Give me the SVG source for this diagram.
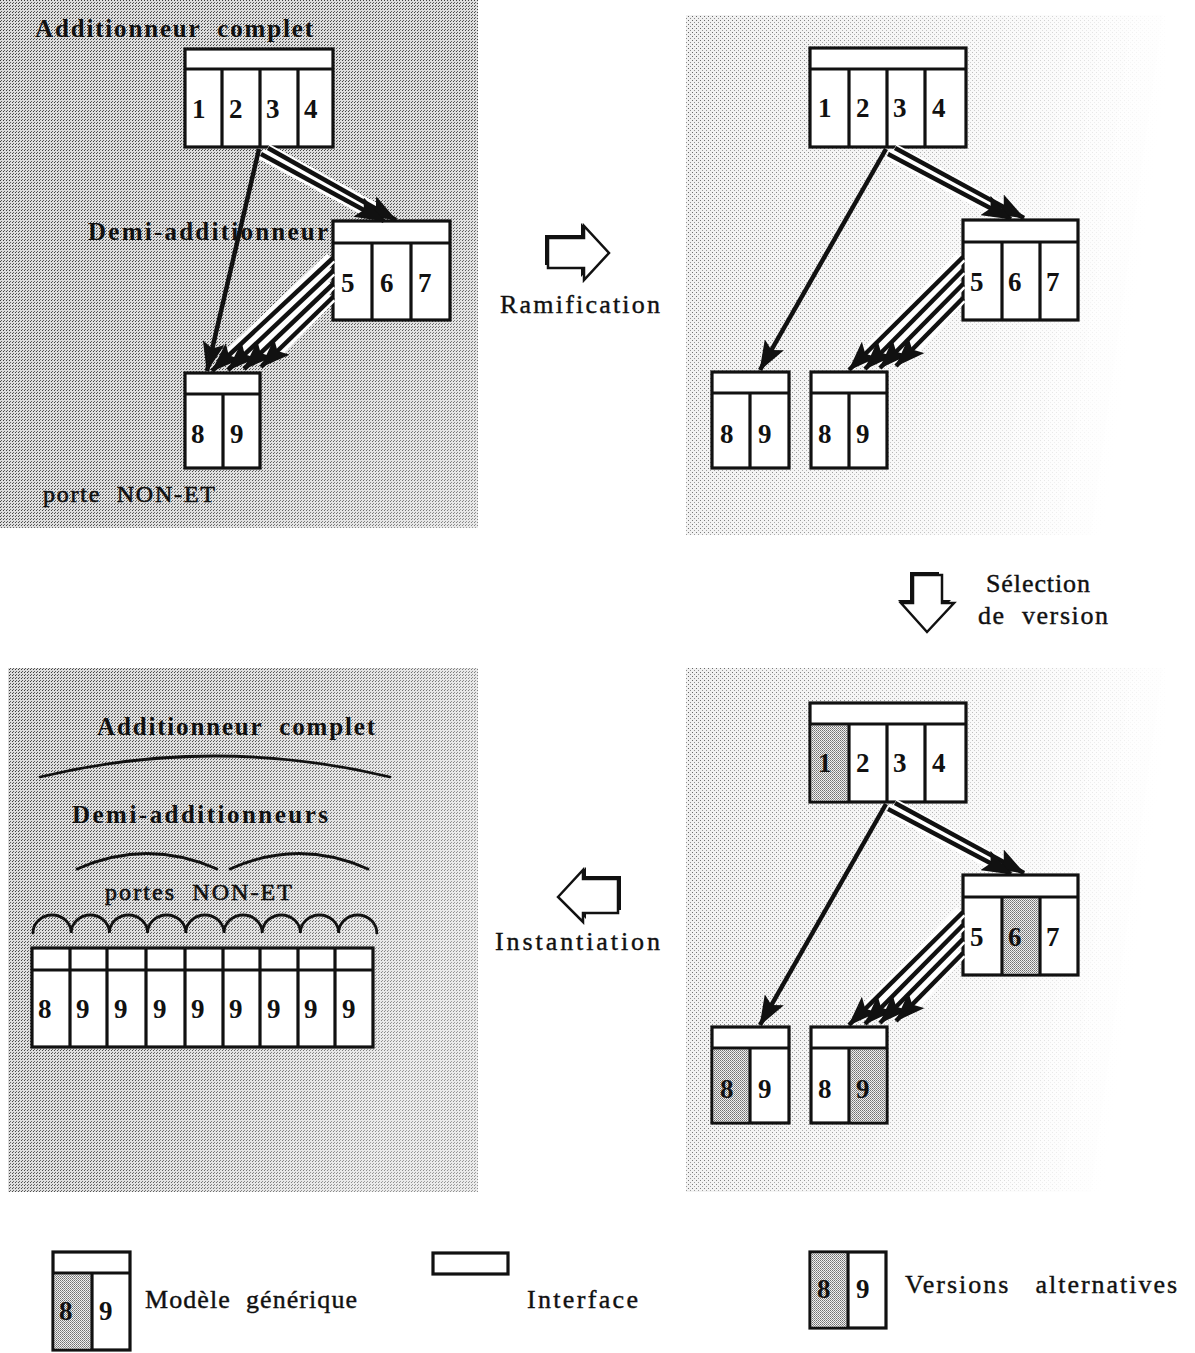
<svg xmlns="http://www.w3.org/2000/svg" width="1195" height="1353" viewBox="0 0 1195 1353">
<style>
.nb{fill:#fff;stroke:#111;stroke-width:3.2}
.dv{stroke:#111;stroke-width:3.2;fill:none}
.dg{font-family:"Liberation Serif",serif;font-weight:bold;font-size:27px;fill:#111}
.lb{font-family:"Liberation Serif",serif;font-weight:bold;font-size:25px;fill:#111}
.lr{font-family:"Liberation Serif",serif;font-size:24px;fill:#111;stroke:#111;stroke-width:0.6}
.lc{font-family:"Liberation Serif",serif;font-size:26px;fill:#111;stroke:#111;stroke-width:0.4}
.cs{stroke:#fff;fill:none;stroke-linecap:butt}
.ar{stroke:#111;fill:none;stroke-width:4.5;marker-end:url(#ah)}
.br{stroke:#111;fill:none;stroke-width:2.8;stroke-linecap:round}
.ba{fill:#fff;stroke:#111;stroke-width:2.5;stroke-linejoin:miter}
.sh{fill:#111}
.shade{fill:url(#shd)}
</style>
<defs>
<pattern id="stip" width="3" height="3" patternUnits="userSpaceOnUse"><rect width="3" height="3" fill="#dcdcdc"/><rect width="1" height="1" fill="#3a3a3a"/><rect x="1" y="2" width="1" height="1" fill="#5a5a5a"/></pattern>
<pattern id="stip2" width="4" height="4" patternUnits="userSpaceOnUse"><rect width="4" height="4" fill="#efefef"/><rect width="1" height="1" fill="#555"/><rect x="2" y="2" width="1" height="1" fill="#808080"/></pattern>
<pattern id="shd" width="2" height="2" patternUnits="userSpaceOnUse"><rect width="2" height="2" fill="#f0f0f0"/><rect width="1" height="1" fill="#707070"/><rect x="1" y="1" width="1" height="1" fill="#909090"/></pattern>
<linearGradient id="gTL" x1="0" y1="0" x2="1" y2="1"><stop offset="0" stop-color="#fff"/><stop offset="0.6" stop-color="#f0f0f0"/><stop offset="1" stop-color="#a0a0a0"/></linearGradient>
<linearGradient id="gBL" x1="0" y1="0" x2="1" y2="0.4"><stop offset="0" stop-color="#fff"/><stop offset="0.5" stop-color="#e0e0e0"/><stop offset="1" stop-color="#909090"/></linearGradient>
<linearGradient id="gR" x1="0" y1="0" x2="1" y2="0.15"><stop offset="0" stop-color="#e8e8e8"/><stop offset="0.35" stop-color="#a0a0a0"/><stop offset="0.75" stop-color="#404040"/><stop offset="1" stop-color="#000"/></linearGradient>
<mask id="mTL" maskUnits="userSpaceOnUse" x="0" y="0" width="1195" height="1353"><rect x="0" y="0" width="478" height="528" fill="url(#gTL)"/></mask>
<mask id="mBL" maskUnits="userSpaceOnUse" x="0" y="0" width="1195" height="1353"><rect x="8" y="668" width="470" height="524" fill="url(#gBL)"/></mask>
<mask id="mTR" maskUnits="userSpaceOnUse" x="0" y="0" width="1195" height="1353"><rect x="686" y="15" width="480" height="520" fill="url(#gR)"/></mask>
<mask id="mBR" maskUnits="userSpaceOnUse" x="0" y="0" width="1195" height="1353"><rect x="686" y="668" width="480" height="524" fill="url(#gR)"/></mask>
<marker id="ah" markerUnits="userSpaceOnUse" markerWidth="30" markerHeight="22" viewBox="0 0 30 22" refX="29" refY="11" orient="auto"><path d="M0,0 L30,11 L0,22 L6,11 z" fill="#111"/></marker>
</defs>
<rect width="1195" height="1353" fill="#fff"/>
<g id="panels">
<rect x="0" y="0" width="478" height="528" fill="url(#stip)" mask="url(#mTL)"/>
<rect x="8" y="668" width="470" height="524" fill="url(#stip)" mask="url(#mBL)"/>
<rect x="686" y="15" width="480" height="520" fill="url(#stip2)" mask="url(#mTR)"/>
<rect x="686" y="668" width="480" height="524" fill="url(#stip2)" mask="url(#mBR)"/>
</g>
<g id="labels">
<text class="lb" x="35" y="37" textLength="278" lengthAdjust="spacing" xml:space="preserve">Additionneur  complet</text>
<text class="lb" x="88" y="240" textLength="240" lengthAdjust="spacing">Demi-additionneur</text>
<text class="lr" x="43" y="502" textLength="172" lengthAdjust="spacing" xml:space="preserve">porte  NON-ET</text>
<text class="lc" x="500" y="313" textLength="160" lengthAdjust="spacing">Ramification</text>
<text class="lc" x="986" y="592" textLength="104" lengthAdjust="spacing">Sélection</text>
<text class="lc" x="978" y="624" textLength="130" lengthAdjust="spacing" xml:space="preserve">de  version</text>
<text class="lc" x="495" y="950" textLength="165" lengthAdjust="spacing">Instantiation</text>
<text class="lb" x="97" y="735" textLength="278" lengthAdjust="spacing" xml:space="preserve">Additionneur  complet</text>
<text class="lb" x="72" y="823" textLength="256" lengthAdjust="spacing">Demi-additionneurs</text>
<text class="lr" x="105" y="900" textLength="187" lengthAdjust="spacing" xml:space="preserve">portes  NON-ET</text>
</g>
<g id="braces">
<path class="br" d="M40,777 Q215,735 390,777"/>
<path class="br" d="M77,869 Q147,838 217,869"/>
<path class="br" d="M230,869 Q299,838 368,869"/>
<path class="br" d="M33,933 a19.1,18 0 0 1 38.2,0 a19.1,18 0 0 1 38.2,0 a19.1,18 0 0 1 38.2,0 a19.1,18 0 0 1 38.2,0 a19.1,18 0 0 1 38.2,0 a19.1,18 0 0 1 38.2,0 a19.1,18 0 0 1 38.2,0 a19.1,18 0 0 1 38.2,0 a19.1,18 0 0 1 38.2,0"/>
</g>
<g id="transitions">
<polygon class="sh" points="545,235 581,235 581,223 606,250 581,277 581,265 545,265"/>
<polygon class="ba" points="548,238 584,238 584,226 609,253 584,280 584,268 548,268"/>
<polygon class="sh" points="910,572 939,572 939,600 951,600 924,629 898,600 910,600"/>
<polygon class="ba" points="913,575 942,575 942,603 954,603 927,632 901,603 913,603"/>
<polygon class="sh" points="561,894 586,867 586,876 621,876 621,910 586,910 586,919"/>
<polygon class="ba" points="558,897 583,870 583,879 618,879 618,913 583,913 583,922"/>
</g>
<!-- top-left tree -->
<g id="tl-additionneur">
<rect class="nb" x="185" y="49" width="148" height="98"/>
<path class="dv" d="M185,69 H333 M222,69 V147 M260,69 V147 M298,69 V147"/>
<text class="dg" x="192" y="118">1</text><text class="dg" x="229" y="118">2</text><text class="dg" x="266" y="118">3</text><text class="dg" x="304" y="118">4</text>
</g>
<g id="tl-demi">
<rect class="nb" x="333" y="221" width="117" height="99"/>
<path class="dv" d="M333,243 H450 M372,243 V320 M411,243 V320"/>
<text class="dg" x="341" y="292">5</text><text class="dg" x="380" y="292">6</text><text class="dg" x="418" y="292">7</text>
</g>
<g id="tl-porte">
<rect class="nb" x="185" y="373" width="75" height="95"/>
<path class="dv" d="M185,394 H260 M223,394 V468"/>
<text class="dg" x="191" y="443">8</text><text class="dg" x="230" y="443">9</text>
</g>
<!-- top-right tree -->
<g id="tr-additionneur">
<rect class="nb" x="810" y="48" width="156" height="99"/>
<path class="dv" d="M810,69 H966 M849,69 V147 M887,69 V147 M925,69 V147"/>
<text class="dg" x="818" y="117">1</text><text class="dg" x="856" y="117">2</text><text class="dg" x="893" y="117">3</text><text class="dg" x="932" y="117">4</text>
</g>
<g id="tr-demi">
<rect class="nb" x="963" y="220" width="115" height="100"/>
<path class="dv" d="M963,242 H1078 M1002,242 V320 M1040,242 V320"/>
<text class="dg" x="970" y="291">5</text><text class="dg" x="1008" y="291">6</text><text class="dg" x="1046" y="291">7</text>
</g>
<g id="tr-porte-a">
<rect class="nb" x="712" y="372" width="77" height="96"/>
<path class="dv" d="M712,393 H789 M750,393 V468"/>
<text class="dg" x="720" y="443">8</text><text class="dg" x="758" y="443">9</text>
</g>
<g id="tr-porte-b">
<rect class="nb" x="811" y="372" width="76" height="96"/>
<path class="dv" d="M811,393 H887 M849,393 V468"/>
<text class="dg" x="818" y="443">8</text><text class="dg" x="856" y="443">9</text>
</g>
<!-- bottom-right tree -->
<g id="br-additionneur">
<rect class="nb" x="810" y="703" width="156" height="99"/>
<rect class="shade" x="811.5" y="725.5" width="36" height="75"/>
<path class="dv" d="M810,724 H966 M849,724 V802 M887,724 V802 M925,724 V802"/>
<text class="dg" x="818" y="772">1</text><text class="dg" x="856" y="772">2</text><text class="dg" x="893" y="772">3</text><text class="dg" x="932" y="772">4</text>
</g>
<g id="br-demi">
<rect class="nb" x="963" y="875" width="115" height="100"/>
<rect class="shade" x="1003.5" y="898.5" width="35" height="75"/>
<path class="dv" d="M963,897 H1078 M1002,897 V975 M1040,897 V975"/>
<text class="dg" x="970" y="946">5</text><text class="dg" x="1008" y="946">6</text><text class="dg" x="1046" y="946">7</text>
</g>
<g id="br-porte-a">
<rect class="nb" x="712" y="1027" width="77" height="96"/>
<rect class="shade" x="713.5" y="1049.5" width="35" height="72"/>
<path class="dv" d="M712,1048 H789 M750,1048 V1123"/>
<text class="dg" x="720" y="1098">8</text><text class="dg" x="758" y="1098">9</text>
</g>
<g id="br-porte-b">
<rect class="nb" x="811" y="1027" width="76" height="96"/>
<rect class="shade" x="850.5" y="1049.5" width="35" height="72"/>
<path class="dv" d="M811,1048 H887 M849,1048 V1123"/>
<text class="dg" x="818" y="1098">8</text><text class="dg" x="856" y="1098">9</text>
</g>
<!-- bottom-left instance row -->
<g id="bl-instances">
<rect class="nb" x="32" y="948" width="341" height="99"/>
<path class="dv" d="M32,970 H373 M70,948 V1047 M107,948 V1047 M146,948 V1047 M185,948 V1047 M223,948 V1047 M260,948 V1047 M298,948 V1047 M335,948 V1047"/>
<text class="dg" x="38" y="1018">8</text><text class="dg" x="76" y="1018">9</text><text class="dg" x="114" y="1018">9</text><text class="dg" x="153" y="1018">9</text><text class="dg" x="191" y="1018">9</text><text class="dg" x="229" y="1018">9</text><text class="dg" x="267" y="1018">9</text><text class="dg" x="304" y="1018">9</text><text class="dg" x="342" y="1018">9</text>
</g>
<!-- legend -->
<g id="legend-generique">
<rect class="nb" x="53" y="1252" width="77" height="98"/>
<rect class="shade" x="54.5" y="1274.5" width="36" height="74"/>
<path class="dv" d="M53,1273 H130 M92,1273 V1350"/>
<text class="dg" x="59" y="1320">8</text><text class="dg" x="99" y="1320">9</text>
<text class="lc" x="145" y="1308" textLength="212" lengthAdjust="spacing" xml:space="preserve">Modèle  générique</text>
</g>
<g id="legend-interface">
<rect class="nb" x="433" y="1253" width="75" height="21"/>
<text class="lc" x="527" y="1308" textLength="111" lengthAdjust="spacing">Interface</text>
</g>
<g id="legend-versions">
<rect class="nb" x="810" y="1252" width="76" height="76"/>
<rect class="shade" x="811.5" y="1253.5" width="35" height="73"/>
<path class="dv" d="M848,1252 V1328"/>
<text class="dg" x="817" y="1298">8</text><text class="dg" x="856" y="1298">9</text>
<text class="lc" x="905" y="1293" textLength="272" lengthAdjust="spacing" xml:space="preserve">Versions   alternatives</text>
</g>
<g id="connectors">
<!-- top-left -->
<path class="cs" stroke-width="11" d="M267,149 L380,211 M261,154 L368,212"/>
<path class="cs" stroke-width="12" d="M331,258 L222,362 M331,271 L238,361 M331,284 L254,360 M331,297 L271,358"/>
<path class="ar" d="M259,149 L207,371"/>
<path class="ar" d="M268,148 L396,220"/>
<path class="ar" d="M261,154 L384,221"/>
<path class="ar" d="M333,258 L212,371"/>
<path class="ar" d="M333,271 L228,370"/>
<path class="ar" d="M333,284 L244,369"/>
<path class="ar" d="M333,297 L261,367"/>
<!-- top-right -->
<path class="cs" stroke-width="11" d="M894,149 L1008,210 M888,154 L995,211"/>
<path class="cs" stroke-width="12" d="M961,257 L859,362 M961,270 L875,361 M961,284 L890,360 M961,298 L906,358"/>
<path class="ar" d="M886,149 L760,370"/>
<path class="ar" d="M895,148 L1024,218"/>
<path class="ar" d="M888,154 L1011,219"/>
<path class="ar" d="M963,257 L849,370"/>
<path class="ar" d="M963,270 L865,369"/>
<path class="ar" d="M963,284 L880,368"/>
<path class="ar" d="M963,298 L896,366"/>
<!-- bottom-right -->
<path class="cs" stroke-width="11" d="M894,804 L1008,865 M888,809 L995,866"/>
<path class="cs" stroke-width="12" d="M961,912 L859,1017 M961,925 L875,1016 M961,939 L890,1015 M961,953 L906,1013"/>
<path class="ar" d="M886,804 L760,1025"/>
<path class="ar" d="M895,803 L1024,873"/>
<path class="ar" d="M888,809 L1011,874"/>
<path class="ar" d="M963,912 L849,1025"/>
<path class="ar" d="M963,925 L865,1024"/>
<path class="ar" d="M963,939 L880,1023"/>
<path class="ar" d="M963,953 L896,1021"/>
</g>
</svg>
